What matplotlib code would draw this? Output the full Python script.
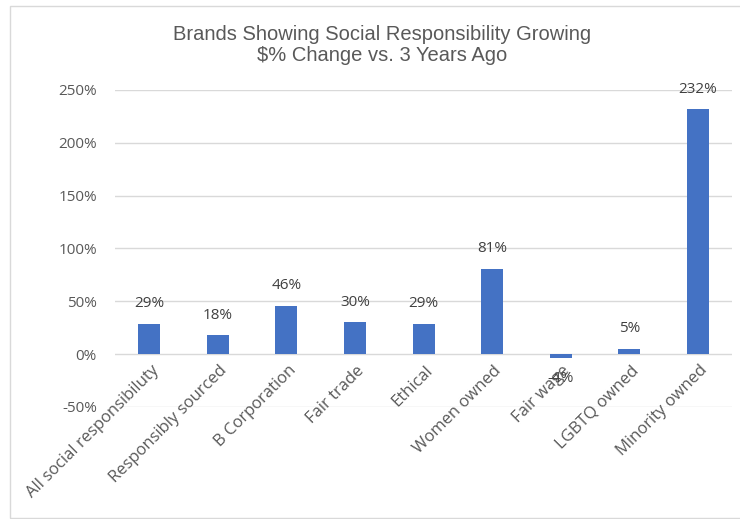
import matplotlib.pyplot as plt
from matplotlib.patches import Rectangle
from matplotlib.ticker import FuncFormatter

# data
categories = ['All social responsibiluty', 'Responsibly sourced', 'B Corporation',
              'Fair trade', 'Ethical', 'Women owned', 'Fair wage',
              'LGBTQ owned', 'Minority owned']
pct_change = [29, 18, 46, 30, 29, 81, -4, 5, 232]
y_ticks = [-50, 0, 50, 100, 150, 200, 250]

grey = '#595959'
fig = plt.figure(figsize=(7.4, 5.19), dpi=100)
ax = fig.add_axes([0.1554, 0.2158, 0.834, 0.6108])

x = range(len(categories))
ax.bar(x, pct_change, width=0.32, color='#4472C4', zorder=3)

# data labels at outside end
for i, v in enumerate(pct_change):
    if v >= 0:
        ax.annotate(f'{v}%', (i, v), xytext=(0, 9), textcoords='offset points',
                    ha='center', va='bottom', fontsize=11, color='#404040',
                    family='Open Sans', zorder=5)
    else:
        ax.annotate(f'{v}%', (i, v), xytext=(0, -9), textcoords='offset points',
                    ha='center', va='top', fontsize=11, color='#404040',
                    family='Open Sans', zorder=5)

ax.set_ylim(-50, 250)
ax.set_xlim(-0.5, len(categories) - 0.5)
ax.set_yticks(y_ticks)
ax.yaxis.set_major_formatter(FuncFormatter(lambda v, p: f'{v:.0f}%'))
ax.grid(axis='y', color='#d9d9d9', linewidth=1, zorder=0)
for s in ax.spines.values():
    s.set_visible(False)
ax.tick_params(axis='y', length=0, pad=13, labelsize=11, labelcolor=grey)
for lab in ax.get_yticklabels():
    lab.set_family('Open Sans')

# category labels sit just below the zero line, as in Excel
ax.set_xticks([])
for i, name in enumerate(categories):
    ax.annotate(name, (i, 0), xytext=(1, -6), textcoords='offset points',
                ha='right', va='top', rotation=45, rotation_mode='anchor',
                fontsize=12, color=grey, family='Open Sans', annotation_clip=False)

fig.text(0.516, 0.913, 'Brands Showing Social Responsibility Growing\n$% Change vs. 3 Years Ago',
         ha='center', va='center', fontsize=14.5, color=grey, family='Liberation Sans',
         linespacing=1.15)

# outer chart frame
fig.patches.append(Rectangle((10 / 740, 0.002), 740, 1 - 6 / 519 - 0.002,
                             transform=fig.transFigure, fill=False,
                             edgecolor='#d9d9d9', linewidth=1))

plt.savefig('out.png', dpi=100)
